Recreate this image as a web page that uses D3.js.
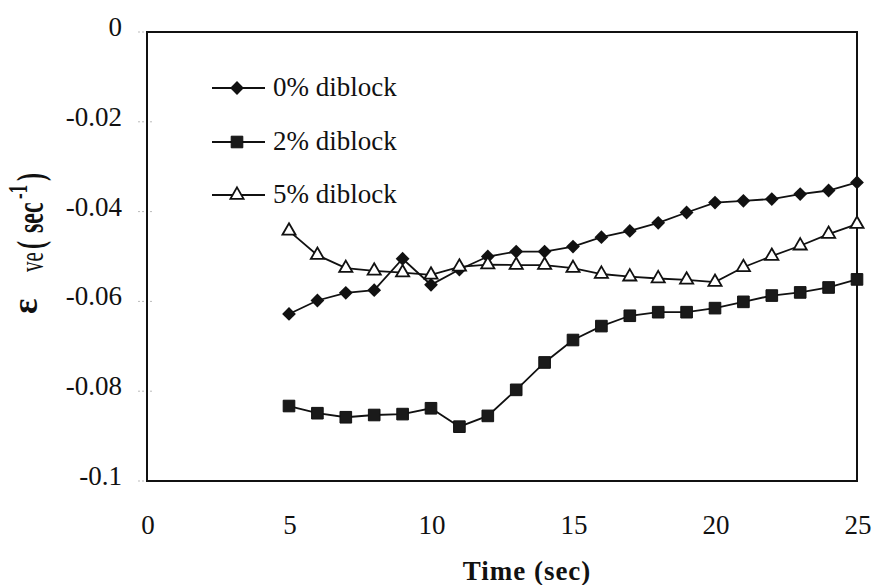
<!DOCTYPE html>
<html><head><meta charset="utf-8">
<script src="https://cdn.jsdelivr.net/npm/d3@7"></script>
<style>body{margin:0;background:#fff}svg{display:block}text{font-family:"Liberation Serif","Times New Roman",serif;fill:#111}</style>
</head><body>
<svg id="c" width="874" height="585"></svg>
<script>
const times = [5,6,7,8,9,10,11,12,13,14,15,16,17,18,19,20,21,22,23,24,25];
const diblock0 = [-0.0628,-0.0598,-0.0581,-0.0575,-0.0505,-0.0563,-0.0529,-0.0500,-0.0489,-0.0489,-0.0478,-0.0457,-0.0443,-0.0425,-0.0402,-0.0380,-0.0376,-0.0372,-0.0361,-0.0353,-0.0335];
const diblock2 = [-0.0833,-0.0849,-0.0858,-0.0853,-0.0851,-0.0838,-0.0879,-0.0855,-0.0797,-0.0736,-0.0686,-0.0655,-0.0632,-0.0624,-0.0624,-0.0615,-0.0601,-0.0587,-0.0580,-0.0569,-0.0551];
const diblock5 = [-0.0443,-0.0497,-0.0526,-0.0532,-0.0536,-0.0541,-0.0523,-0.0518,-0.0519,-0.0519,-0.0526,-0.0539,-0.0545,-0.0549,-0.0552,-0.0557,-0.0524,-0.0499,-0.0476,-0.0450,-0.0428];
const seriesNames = ["0% diblock","2% diblock","5% diblock"];
const xTicks = [0,5,10,15,20,25];
const yTicks = [0,-0.02,-0.04,-0.06,-0.08,-0.1];
const yTickLabels = ["0","-0.02","-0.04","-0.06","-0.08","-0.1"];

const svg = d3.select("#c");
const L=147, R=857, T=32, B=481;
const x = d3.scaleLinear().domain([0,25]).range([L,R]);
const y = d3.scaleLinear().domain([-0.1,0]).range([B,T]);

// y ticks (faint marks)
svg.append("g").selectAll("line").data(yTicks).join("line")
  .attr("x1",L-9).attr("x2",L+6).attr("y1",d=>y(d)).attr("y2",d=>y(d))
  .attr("stroke","#bbb").attr("stroke-width",1).attr("stroke-dasharray","2,2");
svg.append("g").selectAll("text").data(yTicks).join("text")
  .attr("x",L-25).attr("y",d=>y(d)+4).attr("text-anchor","end")
  .attr("font-size",27).text((d,i)=>yTickLabels[i]);
svg.append("g").selectAll("text").data(xTicks).join("text")
  .attr("x",d=>x(d)+1).attr("y",534).attr("text-anchor","middle")
  .attr("font-size",27).text(d=>d);

// frame
svg.append("rect").attr("x",L).attr("y",T).attr("width",R-L).attr("height",B-T)
  .attr("fill","none").attr("stroke","#111").attr("stroke-width",2);

// axis titles
svg.append("text").attr("x",527).attr("y",580).attr("text-anchor","middle")
  .attr("font-size",27).attr("font-weight","bold").attr("letter-spacing",1).text("Time (sec)");
svg.append("text").attr("transform","translate(37,314) rotate(-90)")
  .attr("font-size",36).attr("font-weight","bold").text("ε");
const yl = svg.append("text").attr("transform","translate(43,317) scale(1.6,1) rotate(-90)").attr("text-anchor","start");
yl.append("tspan").attr("x",45).attr("y",0).attr("font-size",21).text("ve");
yl.append("tspan").attr("x",68).attr("y",0).attr("font-size",24).attr("font-weight","bold").text("(");
yl.append("tspan").attr("x",84).attr("y",0).attr("font-size",24).attr("font-weight","bold").text("sec");
yl.append("tspan").attr("x",118).attr("y",-10).attr("font-size",17).attr("font-weight","bold").text("-1");
yl.append("tspan").attr("x",136).attr("y",0).attr("font-size",24).attr("font-weight","bold").text(")");

const series = [
  {name:seriesNames[0], vals:diblock0, sym:"diamond"},
  {name:seriesNames[1], vals:diblock2, sym:"square"},
  {name:seriesNames[2], vals:diblock5, sym:"triangle"}
];
function marker(g, type){
  if(type==="diamond") g.append("path").attr("d",d3.symbol(d3.symbolSquare,95)()).attr("transform","rotate(45)").attr("fill","#111");
  else if(type==="square") g.append("path").attr("d",d3.symbol(d3.symbolSquare,135)()).attr("fill","#1a1a1a").attr("stroke","#111").attr("stroke-width",1);
  else g.append("path").attr("d",d3.symbol(d3.symbolTriangle,75)()).attr("fill","#fff").attr("stroke","#111").attr("stroke-width",1.8);
}
const line = d3.line().x((d,i)=>x(times[i])).y(d=>y(d));
series.forEach(s=>{
  svg.append("path").attr("d",line(s.vals)).attr("fill","none").attr("stroke","#111").attr("stroke-width",1.8);
});
series.forEach(s=>{
  s.vals.forEach((v,i)=>{
    const g = svg.append("g").attr("transform",`translate(${x(times[i])},${y(v)})`);
    marker(g,s.sym);
  });
});

// legend
const legY=[88,142,195];
series.forEach((s,i)=>{
  svg.append("line").attr("x1",212).attr("x2",265).attr("y1",legY[i]).attr("y2",legY[i]).attr("stroke","#111").attr("stroke-width",1.8);
  const g = svg.append("g").attr("transform",`translate(237,${legY[i]})`);
  marker(g,s.sym);
  svg.append("text").attr("x",273).attr("y",legY[i]+8).attr("font-size",27).text(s.name);
});
</script>
</body></html>
